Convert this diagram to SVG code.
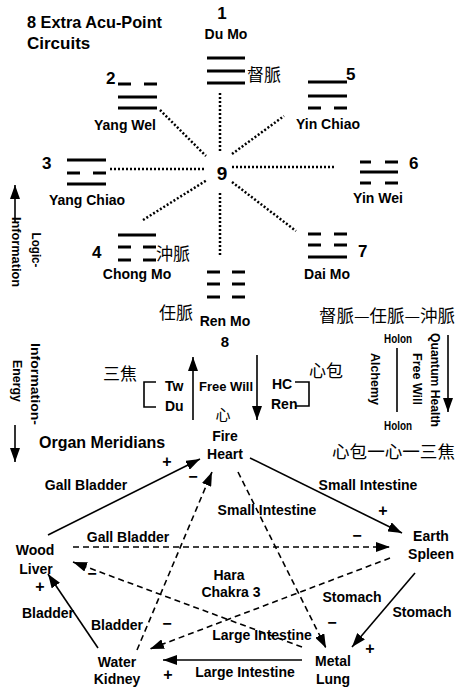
<svg xmlns="http://www.w3.org/2000/svg" width="464" height="695" viewBox="0 0 464 695">
<defs>
<marker id="ah" markerUnits="userSpaceOnUse" markerWidth="14" markerHeight="10" refX="14" refY="5" orient="auto"><path d="M0,0 L14,5 L0,10 z" fill="#000"/></marker>
</defs>
<style>
text{font-family:"Liberation Sans",Arial,sans-serif;font-weight:bold;fill:#000;font-size:14px}
.c{text-anchor:middle}
.title{font-size:17px}
.num{font-size:17px}
.cjk{font-family:"Noto Sans CJK TC","Noto Sans CJK SC",sans-serif;font-weight:normal;font-size:17px;fill:#000}
.sm{font-size:13px}
.rot{font-size:12.5px;text-anchor:middle}
.sign{font-size:16px;text-anchor:middle}
.tri line{stroke:#000;stroke-width:3}
.dot{stroke:#000;stroke-width:2.5;stroke-dasharray:2 2;fill:none}
.sol{stroke:#000;stroke-width:1.6;fill:none}
.dash{stroke:#000;stroke-width:1.6;stroke-dasharray:6 4;fill:none}
.arr{marker-end:url(#ah)}
</style>
<rect width="464" height="695" fill="#fff"/>

<g id="title">
<text class="title" x="27" y="28" textLength="135" lengthAdjust="spacingAndGlyphs">8 Extra Acu-Point</text>
<text class="title" x="27" y="49">Circuits</text>
</g>

<g id="connectors">
<line class="dot" x1="220" y1="93" x2="220" y2="153"/>
<line class="dot" x1="220" y1="193" x2="220" y2="257"/>
<line class="dot" x1="110" y1="169" x2="205" y2="169"/>
<line class="dot" x1="232" y1="167" x2="334" y2="167"/>
<line class="dot" x1="160" y1="110" x2="206" y2="156"/>
<line class="dot" x1="232" y1="154" x2="284" y2="116"/>
<line class="dot" x1="143" y1="220" x2="207" y2="180"/>
<line class="dot" x1="232" y1="182" x2="296" y2="231"/>
<line class="sol arr" x1="193" y1="420" x2="193" y2="357"/>
<line class="sol arr" x1="257" y1="355" x2="257" y2="420"/>
<line class="sol arr" x1="15" y1="223" x2="15" y2="185"/>
<line class="sol arr" x1="15" y1="425" x2="15" y2="462"/>
<line class="sol arr" x1="448" y1="335" x2="448" y2="412"/>
<line class="sol" x1="397" y1="348" x2="397" y2="412"/>
<path class="sol" d="M156,382 H144 V407 H156"/>
<path class="sol" d="M295,382 H309 V406 H295"/>
<line class="sol arr" x1="48" y1="535" x2="200" y2="459"/>
<line class="sol arr" x1="250" y1="458" x2="402" y2="533"/>
<line class="sol arr" x1="415" y1="573" x2="352" y2="647"/>
<line class="sol arr" x1="302" y1="660" x2="163" y2="660"/>
<line class="sol arr" x1="98" y1="648" x2="48" y2="574"/>
<line class="dash arr" x1="73" y1="547" x2="390" y2="547"/>
<line class="dash arr" x1="390" y1="558" x2="150" y2="649"/>
<line class="dash arr" x1="137" y1="650" x2="212" y2="472"/>
<line class="dash arr" x1="238" y1="472" x2="326" y2="648"/>
<line class="dash arr" x1="302" y1="647" x2="73" y2="562"/>
</g>

<g id="n1-dumo" class="tri">
<text class="num c" x="222" y="19">1</text>
<text class="c" x="226" y="39">Du Mo</text>
<line x1="207" y1="58" x2="245" y2="58"/>
<line x1="207" y1="71" x2="245" y2="71"/>
<line x1="207" y1="83" x2="245" y2="83"/>
<text class="cjk" x="247" y="81">督脈</text>
</g>

<g id="n2-yangwei" class="tri">
<text class="num" x="106" y="84">2</text>
<line x1="118" y1="84" x2="131" y2="84"/>
<line x1="144" y1="84" x2="157" y2="84"/>
<line x1="118" y1="97" x2="157" y2="97"/>
<line x1="118" y1="108" x2="157" y2="108"/>
<text class="c" x="125" y="130">Yang Wel</text>
</g>

<g id="n5-yinchiao" class="tri">
<line x1="308" y1="82" x2="347" y2="82"/>
<line x1="308" y1="96" x2="347" y2="96"/>
<line x1="308" y1="108" x2="321" y2="108"/>
<line x1="334" y1="108" x2="347" y2="108"/>
<text class="num" x="346" y="80">5</text>
<text class="c" x="328" y="129">Yin Chiao</text>
</g>

<g id="n3-yangchiao" class="tri">
<text class="num" x="42" y="169">3</text>
<line x1="67" y1="160" x2="106" y2="160"/>
<line x1="67" y1="173" x2="80" y2="173"/>
<line x1="93" y1="173" x2="106" y2="173"/>
<line x1="67" y1="184" x2="106" y2="184"/>
<text class="c" x="87" y="205">Yang Chiao</text>
</g>

<g id="n9-center">
<text class="c" x="222" y="180" style="font-size:19px">9</text>
</g>

<g id="n6-yinwei" class="tri">
<line x1="360" y1="162" x2="371" y2="162"/>
<line x1="385" y1="162" x2="398" y2="162"/>
<line x1="360" y1="172" x2="398" y2="172"/>
<line x1="360" y1="183" x2="371" y2="183"/>
<line x1="385" y1="183" x2="398" y2="183"/>
<text class="num" x="409" y="169">6</text>
<text class="c" x="378" y="203">Yin Wei</text>
</g>

<g id="n4-chongmo" class="tri">
<text class="num" x="92" y="258">4</text>
<line x1="118" y1="235" x2="156" y2="235"/>
<line x1="118" y1="247" x2="131" y2="247"/>
<line x1="143" y1="247" x2="156" y2="247"/>
<line x1="118" y1="260" x2="131" y2="260"/>
<line x1="143" y1="260" x2="156" y2="260"/>
<text class="cjk" x="156" y="260">沖脈</text>
<text class="c" x="137" y="279">Chong Mo</text>
</g>

<g id="n7-daimo" class="tri">
<line x1="308" y1="234" x2="321" y2="234"/>
<line x1="334" y1="234" x2="347" y2="234"/>
<line x1="308" y1="245" x2="321" y2="245"/>
<line x1="334" y1="245" x2="347" y2="245"/>
<line x1="308" y1="257" x2="347" y2="257"/>
<text class="num" x="358" y="257">7</text>
<text class="c" x="327" y="279">Dai Mo</text>
</g>

<g id="n8-renmo" class="tri">
<line x1="207" y1="272" x2="220" y2="272"/>
<line x1="232" y1="272" x2="245" y2="272"/>
<line x1="207" y1="284" x2="220" y2="284"/>
<line x1="232" y1="284" x2="245" y2="284"/>
<line x1="207" y1="297" x2="220" y2="297"/>
<line x1="232" y1="297" x2="245" y2="297"/>
<text class="cjk" x="159" y="319">任脈</text>
<text class="c" x="225" y="326">Ren Mo</text>
<text class="c" x="225" y="347" style="font-size:15px">8</text>
</g>

<g id="left-axis">
<text class="rot" transform="translate(32,250) rotate(90)" textLength="35" lengthAdjust="spacingAndGlyphs">Logic-</text>
<text class="rot" transform="translate(12,252) rotate(90)" textLength="70" lengthAdjust="spacingAndGlyphs">Information</text>
<text class="rot" transform="translate(31,384) rotate(90)" textLength="82" lengthAdjust="spacingAndGlyphs">Information-</text>
<text class="rot" transform="translate(13,381) rotate(90)" textLength="42" lengthAdjust="spacingAndGlyphs">Energy</text>
</g>

<g id="sanjiao">
<text class="cjk" x="103" y="380">三焦</text>
<text x="165" y="391">Tw</text>
<text x="165" y="411">Du</text>
</g>

<g id="freewill">
<text class="sm c" x="226" y="391">Free Will</text>
</g>

<g id="xinbao">
<text x="272" y="389">HC</text>
<text x="271" y="409">Ren</text>
<text class="cjk" x="309" y="377">心包</text>
</g>

<g id="right-block">
<text class="cjk" x="319" y="322" textLength="136" lengthAdjust="spacingAndGlyphs">督脈—任脈—沖脈</text>
<text class="sm c" x="398" y="343" textLength="28" lengthAdjust="spacingAndGlyphs">Holon</text>
<text class="rot" transform="translate(371,379) rotate(90)" textLength="52" lengthAdjust="spacingAndGlyphs">Alchemy</text>
<text class="rot" transform="translate(413,379) rotate(90)" textLength="52" lengthAdjust="spacingAndGlyphs">Free Will</text>
<text class="rot" transform="translate(431,380) rotate(90)" textLength="94" lengthAdjust="spacingAndGlyphs">Quantum Health</text>
<text class="sm c" x="398" y="430" textLength="28" lengthAdjust="spacingAndGlyphs">Holon</text>
<text class="cjk" x="332" y="458" textLength="123" lengthAdjust="spacingAndGlyphs">心包一心一三焦</text>
</g>

<g id="organ-title">
<text x="39" y="448" style="font-size:16px">Organ Meridians</text>
</g>

<g id="fire">
<text class="cjk c" x="223" y="420" style="font-size:15px">心</text>
<text class="c" x="225" y="441">Fire</text>
<text class="c" x="225" y="459">Heart</text>
</g>
<g id="earth">
<text class="c" x="431" y="541">Earth</text>
<text class="c" x="431" y="559">Spleen</text>
</g>
<g id="metal">
<text class="c" x="333" y="666">Metal</text>
<text class="c" x="333" y="684">Lung</text>
</g>
<g id="water">
<text class="c" x="117" y="667">Water</text>
<text class="c" x="117" y="684">Kidney</text>
</g>
<g id="wood">
<text class="c" x="35" y="555">Wood</text>
<text class="c" x="36" y="574">Liver</text>
</g>
<g id="hara">
<text class="c" x="229" y="580">Hara</text>
<text class="c" x="231" y="597">Chakra 3</text>
</g>

<g id="edge-labels">
<text class="c" x="86" y="490">Gall Bladder</text>
<text class="c" x="368" y="490">Small Intestine</text>
<text class="c" x="267" y="515">Small Intestine</text>
<text class="c" x="128" y="542">Gall Bladder</text>
<text class="c" x="352" y="602">Stomach</text>
<text class="c" x="422" y="617">Stomach</text>
<text class="c" x="48" y="618">Bladder</text>
<text class="c" x="117" y="630">Bladder</text>
<text class="c" x="262" y="640">Large Intestine</text>
<text class="c" x="245" y="677">Large Intestine</text>
<text class="sign" x="167" y="467">+</text>
<text class="sign" x="193" y="482">−</text>
<text class="sign" x="383" y="516">+</text>
<text class="sign" x="357" y="541">−</text>
<text class="sign" x="332" y="628">−</text>
<text class="sign" x="370" y="654">+</text>
<text class="sign" x="167" y="629">−</text>
<text class="sign" x="168" y="680">+</text>
<text class="sign" x="92" y="579">−</text>
<text class="sign" x="40" y="592">+</text>
</g>
</svg>
